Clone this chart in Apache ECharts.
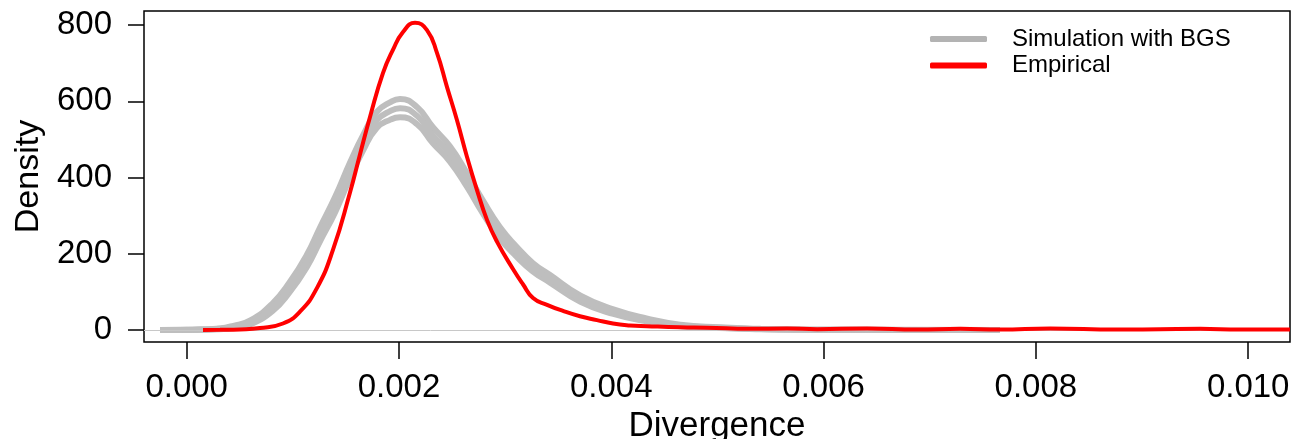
<!DOCTYPE html>
<html>
<head>
<meta charset="utf-8">
<script src="https://cdn.jsdelivr.net/npm/echarts@6/dist/echarts.min.js"></script>
<style>html,body{margin:0;padding:0;background:#fff;}#c{width:1298px;height:439px;}</style>
</head>
<body>
<div id="c"></div>
<script>
var xTicks = [0, 0.002, 0.004, 0.006, 0.008, 0.010];
var yTicks = [0, 200, 400, 600, 800];

var grayX = [-0.00025, -0.00006, 0.000125, 0.00031, 0.00044, 0.0006, 0.00081, 0.00097, 0.00113, 0.001255, 0.0014, 0.00154, 0.00166, 0.00179, 0.00192, 0.00201, 0.00217, 0.00232, 0.00248, 0.00264, 0.00279, 0.00295, 0.00311, 0.00326, 0.00342, 0.00371, 0.00402, 0.00434, 0.00465, 0.00502, 0.0054, 0.00578, 0.00672, 0.00766];
var grayMid = [0, 0.3, 1, 3, 8, 20, 60, 112, 180, 250, 330, 420, 490, 550, 575, 582, 562, 510, 462, 394, 323, 255, 205, 165, 135, 82, 48, 26, 12, 6, 2.5, 1, 0.3, 0];
var grayHigh = [0, 0.4, 1.5, 4, 11, 25, 70, 125, 196, 268, 350, 440, 510, 572, 598, 606, 585, 532, 482, 412, 340, 270, 218, 176, 145, 90, 54, 30, 14, 7, 3, 1.2, 0.4, 0];
var grayLow = [0, 0.2, 0.6, 2, 5, 15, 50, 99, 164, 232, 310, 400, 470, 530, 552, 558, 540, 490, 442, 376, 306, 240, 192, 154, 125, 74, 42, 22, 10, 5, 2, 0.8, 0.2, 0];

var redX = [0.000154, 0.000314, 0.000502, 0.00069, 0.000907, 0.001067, 0.001227, 0.001378, 0.001538, 0.001632, 0.001727, 0.001849, 0.001943, 0.002038, 0.002151, 0.002264, 0.002358, 0.002452, 0.002546, 0.002641, 0.002735, 0.002829, 0.002923, 0.003074, 0.003168, 0.003263, 0.003395, 0.003545, 0.003705, 0.003865, 0.004016, 0.004176, 0.004336, 0.004647, 0.004902, 0.005307, 0.005656, 0.005939, 0.00641, 0.006881, 0.007287, 0.007662, 0.008134, 0.008765, 0.00917, 0.009547, 0.009924, 0.010394];
var redY = [0, 0.5, 1.5, 5, 17, 48, 110, 210, 360, 460, 559, 674, 735, 782, 806, 787, 727, 638, 551, 454, 367, 289, 232, 160, 120, 84, 66, 50, 36, 26, 17, 12, 10, 7, 6, 3, 4, 2, 4, 1, 3, 1, 4, 1, 2, 3, 1, 1];

function pairs(xs, ys) { return xs.map(function (x, i) { return [x, ys[i]]; }); }

var FONT = '"Liberation Sans", Arial, Helvetica, sans-serif';
var chart = echarts.init(document.getElementById('c'), null, { renderer: 'canvas' });

function graySeries(data) {
  return {
    type: 'line', name: 'Simulation with BGS', data: data, showSymbol: false, symbol: 'none',
    smooth: 0.5, silent: true,
    lineStyle: { color: '#bebebe', width: 6 }, itemStyle: { color: '#bebebe' }, z: 2
  };
}

chart.setOption({
  animation: false,
  backgroundColor: '#fff',
  grid: { left: 144, right: 8, top: 11, bottom: 97, outerBoundsMode: 'none', containLabel: false,
    show: true, borderColor: '#000', borderWidth: 1.5, backgroundColor: 'transparent' },
  legend: {
    show: true, orient: 'vertical', left: 925, top: 22, itemWidth: 57, itemHeight: 6, itemGap: 2.6,
    selectedMode: false, icon: 'roundRect',
    textStyle: { fontFamily: FONT, fontSize: 24, color: '#000', lineHeight: 24, padding: [0, 0, 0, 20] },
    data: [
      { name: 'Simulation with BGS', itemStyle: { color: '#b3b3b3' } },
      { name: 'Empirical', itemStyle: { color: '#ff0000' } }
    ]
  },
  xAxis: {
    type: 'value', min: -0.000402, max: 0.010394,
    name: 'Divergence', nameLocation: 'middle', nameGap: 49,
    nameTextStyle: { fontFamily: FONT, fontSize: 35, color: '#000' },
    axisLine: { show: false, onZero: false },
    splitLine: { show: false },
    axisTick: { show: true, inside: false, length: 17, customValues: xTicks, lineStyle: { color: '#000', width: 1.5 } },
    axisLabel: { show: true, customValues: xTicks, margin: 29, fontFamily: FONT, fontSize: 33, color: '#000',
      formatter: function (v) { return v.toFixed(3); } }
  },
  yAxis: {
    type: 'value', min: -31.5, max: 837,
    name: 'Density', nameLocation: 'middle', nameGap: 84, nameRotate: 90,
    nameTextStyle: { fontFamily: FONT, fontSize: 34, color: '#000' },
    axisLine: { show: false, onZero: false },
    splitLine: { show: false },
    axisTick: { show: true, inside: false, length: 16, customValues: yTicks, lineStyle: { color: '#000', width: 1.5 } },
    axisLabel: { show: true, customValues: yTicks, margin: 32, fontFamily: FONT, fontSize: 33, color: '#000',
      padding: [5, 0, 0, 0],
      formatter: function (v) { return String(v); } }
  },
  series: [
    {
      type: 'line', name: 'zero', data: [], silent: true, symbol: 'none',
      markLine: { silent: true, symbol: 'none', label: { show: false },
        lineStyle: { color: '#c8c8c8', width: 1, type: 'solid' }, data: [{ yAxis: 0 }] }, z: 1
    },
    graySeries(pairs(grayX, grayLow)),
    graySeries(pairs(grayX, grayHigh)),
    graySeries(pairs(grayX, grayMid)),
    {
      type: 'line', name: 'Empirical', data: pairs(redX, redY), showSymbol: false, symbol: 'none',
      smooth: 0.5, silent: true,
      lineStyle: { color: '#ff0000', width: 4 }, itemStyle: { color: '#ff0000' }, z: 5
    }
  ]
});
</script>
</body>
</html>
